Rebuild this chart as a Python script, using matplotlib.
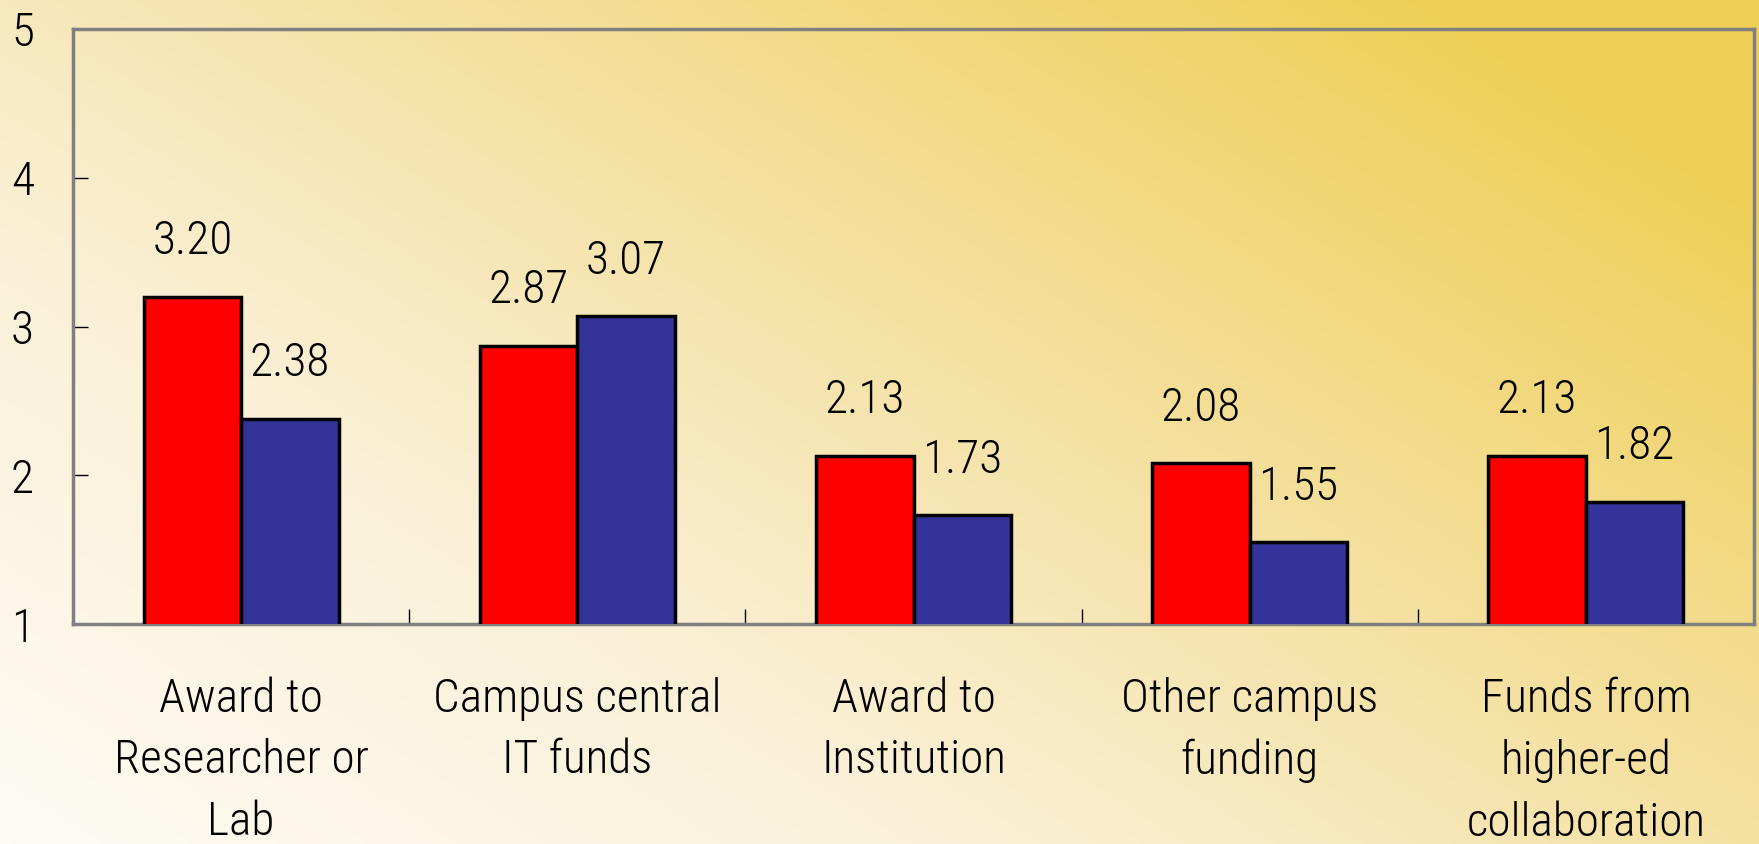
import numpy as np
import matplotlib
matplotlib.use("Agg")
import matplotlib.pyplot as plt
from matplotlib import font_manager
from matplotlib.colors import LinearSegmentedColormap

categories = ["Award to\nResearcher or\nLab", "Campus central\nIT funds", "Award to\nInstitution",
              "Other campus\nfunding", "Funds from\nhigher-ed\ncollaboration"]
red_values = [3.20, 2.87, 2.13, 2.08, 2.13]
blue_values = [2.38, 3.07, 1.73, 1.55, 1.82]
y_ticks = [1, 2, 3, 4, 5]

available = {f.name for f in font_manager.fontManager.ttflist}
narrow = [n for n in ["Liberation Sans Narrow", "Arial Narrow", "Roboto Condensed",
                      "Open Sans Condensed", "DejaVu Sans Condensed"] if n in available]
fam = (narrow[:1] or []) + ["Liberation Sans", "DejaVu Sans"]
plt.rcParams['font.family'] = fam
plt.rcParams['font.weight'] = 'light'
FS = 34 if narrow and narrow[0] != "DejaVu Sans Condensed" else 32

W, H = 1759, 844
fig = plt.figure(figsize=(W / 100, H / 100), dpi=100)

# background gradient
bg = fig.add_axes([0, 0, 1, 1], zorder=0)
xx, yy = np.meshgrid(np.linspace(0, 1, 400), np.linspace(0, 1, 200))
t = np.clip(0.62 * xx + 0.48 * yy, 0, 1)
cmap = LinearSegmentedColormap.from_list("bg", [
    (0.0, "#fdfbf4"), (0.35, "#faf0d6"), (0.6, "#f5e2a6"), (0.85, "#f1d673"), (1.0, "#efcf55")])
bg.imshow(t, cmap=cmap, origin="lower", extent=[0, 1, 0, 1], aspect="auto", vmin=0, vmax=1)
bg.axis("off")

ax = fig.add_axes([73 / W, 1 - 624 / H, (1754 - 73) / W, (624 - 29) / H], zorder=1)
ax.patch.set_alpha(0)

x = np.arange(len(categories))
bw = 0.29
rb = ax.bar(x - bw / 2, red_values, bw, bottom=0, color="#ff0000", edgecolor="black", linewidth=2.5, zorder=3)
bb = ax.bar(x + bw / 2, blue_values, bw, bottom=0, color="#333399", edgecolor="black", linewidth=2.5, zorder=3)

for bars, vals in ((rb, red_values), (bb, blue_values)):
    for b, v in zip(bars, vals):
        ax.annotate(f"{v:.2f}", (b.get_x() + b.get_width() / 2, v), xytext=(0, 40),
                    textcoords="offset points", ha="center", va="center", fontsize=FS, color="black")

ax.set_ylim(1, 5)
ax.set_xlim(-0.5, len(categories) - 0.5)
ax.set_yticks(y_ticks)
ax.set_yticklabels([str(v) for v in y_ticks])
ax.tick_params(axis="y", direction="in", length=11, width=1, labelsize=FS, pad=28)
ax.set_xticks(x)
ax.set_xticklabels(categories, fontsize=FS, linespacing=1.5)
ax.tick_params(axis="x", which="major", length=0, pad=38)
ax.set_xticks(np.arange(-0.5, len(categories)), minor=True)
ax.tick_params(axis="x", which="minor", direction="in", length=11, width=1)

for s in ax.spines.values():
    s.set_color("#808080")
    s.set_linewidth(2.5)

fig.savefig("out.png", dpi=100)
